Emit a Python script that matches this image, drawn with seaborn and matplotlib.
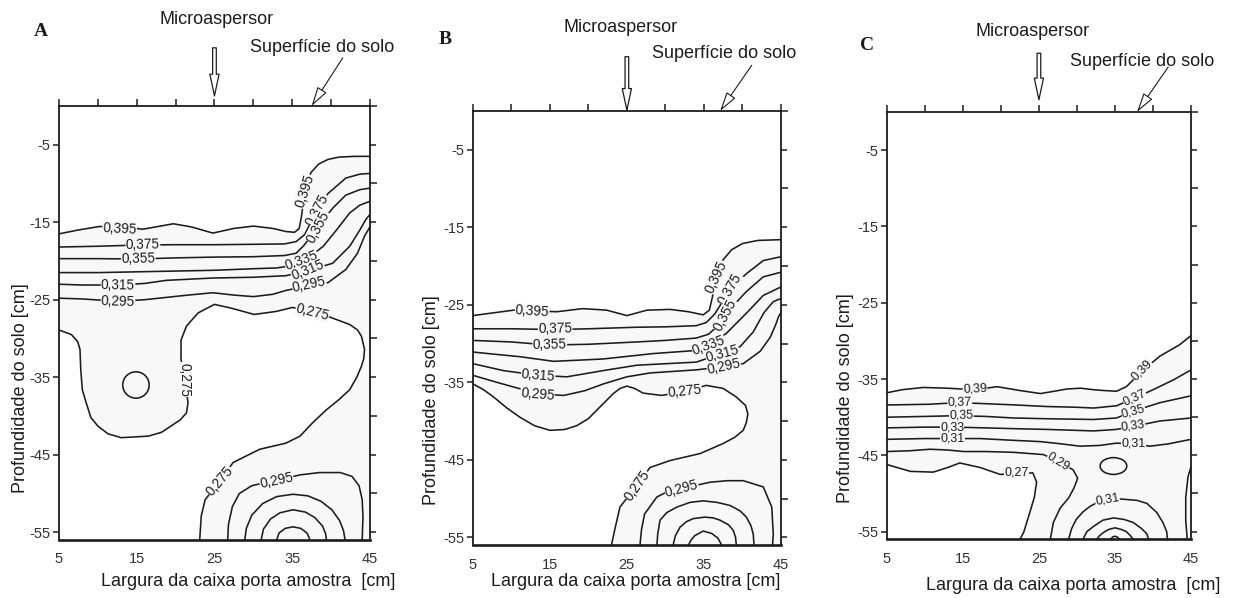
import matplotlib
matplotlib.use("Agg")
import matplotlib.pyplot as plt
import pandas as pd
import seaborn as sns
from matplotlib.patches import Ellipse

# ---------------------------------------------------------------- data
x_ticks = [5, 15, 25, 35, 45]
x_tick_labels = ["5", "15", "25", "35", "45"]
x_minor = [10, 20, 30, 40]
y_ticks = [-5, -15, -25, -35, -45, -55]
y_tick_labels = ["-5", "-15", "-25", "-35", "-45", "-55"]
y_minor = [0, -10, -20, -30, -40, -50]

# ---- Panel A (contour lines)
A_0395_x = [5, 7.5, 10.2, 13, 15.8, 19.7, 22, 24.8, 27.5, 30, 32.5, 34.2, 35.3, 35.9, 36.2, 36.6, 37.4, 38.4, 39.6, 41, 43, 45]
A_0395_y = [-16.5, -16.0, -15.55, -15.6, -15.9, -15.2, -15.6, -16.4, -15.8, -15.5, -15.8, -16.2, -16.3, -15.8, -14.2, -11.0, -8.6, -7.5, -6.9, -6.6, -6.5, -6.5]
A_0375_x = [5, 10, 15, 20, 25, 30, 34, 35.5, 36.6, 38.2, 39.6, 41.9, 43.7, 45]
A_0375_y = [-18.2, -18.1, -17.95, -17.9, -17.9, -17.85, -17.8, -17.5, -16.6, -13.4, -11.3, -9.3, -8.8, -8.7]
A_0355_x = [5, 10, 15, 20, 25, 30, 34, 35.5, 36.5, 38.3, 40.2, 41.9, 43.7, 45]
A_0355_y = [-19.7, -19.7, -19.75, -19.6, -19.5, -19.45, -19.3, -19.0, -18.0, -15.6, -13.2, -11.5, -10.8, -10.6]
A_0335_x = [5, 10, 15, 20, 25, 30, 33, 35, 36.8, 39, 40.7, 42.4, 43.7, 45]
A_0335_y = [-21.5, -21.5, -21.4, -21.3, -21.2, -21.0, -20.9, -20.6, -19.8, -18.1, -16.0, -13.8, -12.8, -12.3]
A_0315_x = [5, 8, 12.6, 16, 18.8, 24.8, 30, 34.2, 36.8, 40.2, 42.4, 43.7, 44.5, 45]
A_0315_y = [-23.0, -23.1, -23.1, -22.9, -22.5, -22.2, -22.1, -21.9, -21.3, -20.3, -18.1, -16.0, -14.6, -14.0]
A_0295_x = [5, 8, 12.6, 16, 21.6, 24.8, 27.5, 30, 32.5, 34.2, 37, 39.6, 41.9, 43.4, 44.3, 45]
A_0295_y = [-24.8, -24.9, -25.2, -25.0, -24.4, -24.1, -24.4, -24.6, -24.3, -23.8, -23.2, -22.8, -21.1, -19.0, -16.8, -15.6]
A_0275_x = [5, 6.6, 7.4, 7.7, 7.8, 8.0, 8.5, 9.1, 10, 11.3, 13, 16.5, 18.2, 19.4, 20.6, 21.4, 21.6, 21.2, 20.7, 20.7, 21.4, 22.9, 25, 27.2, 30.1, 33, 35, 37.2, 40, 42.4, 43.4, 43.9, 44.3, 44.2, 43.9, 43.3, 42.4, 41.0, 39.4, 37.6, 36, 34.2, 30.8, 27.4, 25.7, 23.8, 23.3, 23.1]
A_0275_y = [-28.9, -29.5, -30.4, -31.4, -34.0, -36.6, -38.3, -40.2, -41.3, -42.3, -42.8, -42.6, -42.1, -41.3, -40.5, -39.6, -38.3, -35.3, -32.7, -30.2, -28.4, -26.7, -25.6, -26.1, -26.9, -26.5, -26.0, -26.4, -27.3, -28.2, -28.9, -29.7, -31.4, -32.6, -33.6, -35.0, -36.6, -37.9, -39.2, -40.9, -42.6, -43.5, -44.3, -46.0, -48.4, -50.8, -52.9, -56]
A_r0295_x = [26.7, 26.8, 27.3, 28.2, 29.8, 31.5, 33, 36, 38.5, 41.2, 42.7, 43.6, 44.0, 44.1, 44.0]
A_r0295_y = [-56, -54.0, -51.7, -50.0, -49.0, -48.6, -48.3, -47.6, -47.3, -47.3, -47.8, -49.0, -50.8, -53.0, -56]
A_r0315_x = [28.9, 29.1, 29.8, 31.2, 33, 35.1, 37, 38.7, 40.1, 41.1, 41.6, 41.8]
A_r0315_y = [-56, -54.5, -52.8, -51.3, -50.4, -50.1, -50.3, -51.0, -52.1, -53.5, -54.8, -56]
A_r0335_x = [31, 31.3, 32.2, 33.4, 35.1, 36.7, 37.9, 38.9, 39.3, 39.4]
A_r0335_y = [-56, -54.6, -53.3, -52.5, -52.1, -52.4, -53.1, -54.2, -55.2, -56]
A_r0355_x = [33, 33.3, 34.1, 35.1, 36.1, 36.9, 37.3]
A_r0355_y = [-56, -55.1, -54.5, -54.3, -54.5, -55.1, -56]
A_circles = [(14.9, -36.0, 1.7, 1.7)]
A_clabels = [("0,395", 12.8, -15.8, -3), ("0,395", 36.6, -11.0, 72),
             ("0,375", 15.8, -17.95, 1), ("0,375", 38.2, -13.4, 62),
             ("0,355", 15.2, -19.75, 1), ("0,355", 38.3, -15.6, 62),
             ("0,335", 36.2, -20.0, 20),
             ("0,315", 12.6, -23.1, -1), ("0,315", 37.0, -21.2, 22),
             ("0,295", 12.6, -25.2, -2), ("0,295", 37.2, -23.1, 12),
             ("0,275", 21.2, -35.3, -90), ("0,275", 37.6, -26.6, -14),
             ("0,275", 25.7, -48.4, 50), ("0,295", 33.0, -48.4, 12)]

# ---- Panel B
B_0395_x = [5, 8, 10.3, 12.7, 15.9, 19.3, 22.4, 25, 27.6, 30.6, 33, 34.9, 35.7, 36.1, 36.6, 37.4, 38.6, 40, 42, 45]
B_0395_y = [-26.4, -26.0, -25.7, -25.8, -25.9, -25.5, -25.7, -26.4, -25.7, -25.6, -25.9, -26.3, -25.7, -24.0, -21.4, -19.3, -17.9, -17.1, -16.7, -16.6]
B_0375_x = [5, 10, 15.7, 20, 26.3, 30, 34, 35.3, 36.4, 38.4, 40.5, 42.7, 45]
B_0375_y = [-28.1, -28.1, -28.2, -28.1, -27.9, -27.85, -27.7, -27.3, -26.2, -23.0, -21.0, -19.3, -18.8]
B_0355_x = [5, 10, 15, 20, 26.3, 30, 34, 35.6, 36.6, 37.6, 40.5, 42.7, 45]
B_0355_y = [-29.6, -29.8, -30.2, -30.1, -29.8, -29.6, -29.3, -28.8, -27.9, -26.4, -23.3, -21.4, -20.8]
B_0335_x = [5, 8, 11.1, 15.5, 21.9, 28.4, 34, 35.5, 37.9, 40.5, 42.7, 45]
B_0335_y = [-31.1, -31.4, -31.7, -32.3, -32.0, -31.3, -30.9, -30.3, -28.7, -26.1, -23.8, -22.7]
B_0315_x = [5, 9, 13.5, 17.2, 21.9, 26.3, 34, 37.3, 39.7, 41.4, 42.8, 44.0, 45]
B_0315_y = [-32.6, -33.5, -34.1, -34.3, -33.5, -32.8, -32.4, -31.3, -30.4, -28.5, -26.0, -24.6, -24.2]
B_0295_x = [5, 8.1, 13.5, 16.8, 19.5, 22, 25, 28, 31, 34, 37.5, 40.1, 42.3, 43.6, 44.3, 44.7, 45]
B_0295_y = [-34.1, -35.0, -36.5, -36.7, -36.1, -35.2, -34.3, -33.8, -33.6, -33.4, -33.0, -32.6, -31.0, -29.2, -27.6, -26.5, -26.0]
B_0275_x = [5, 6.3, 7.7, 9.4, 11.1, 13, 15, 16.9, 18.5, 20, 21.1, 22.2, 23.2, 24.1, 25, 26, 27.1, 29.5, 32.5, 35.3, 37.5, 39.2, 40.4, 40.7, 40.5, 40.1, 39.0, 37.5, 34.5, 30.6, 28, 26.3, 24.1, 23.5, 23]
B_0275_y = [-35.2, -35.9, -36.9, -38.3, -39.5, -40.6, -41.2, -41.1, -40.6, -39.7, -38.6, -37.5, -36.5, -35.8, -35.5, -35.8, -36.4, -36.7, -36.2, -35.4, -35.8, -36.9, -38.0, -39.1, -40.2, -41.2, -42.1, -42.9, -44.2, -45.1, -46.0, -48.3, -51.1, -53.7, -56]
B_r0295_x = [26.7, 26.9, 27.3, 28.9, 30.5, 32.1, 35.8, 38, 40.1, 42.7, 43.8, 44.0, 43.9]
B_r0295_y = [-56, -54.0, -52.0, -49.8, -49.0, -48.7, -47.9, -47.7, -47.7, -48.5, -51.1, -54.6, -56]
B_r0315_x = [28.9, 29.0, 29.3, 30.2, 31.5, 33.2, 34.9, 36.7, 38.4, 39.7, 40.5, 41.1, 41.4, 41.5]
B_r0315_y = [-56, -54.6, -52.8, -51.8, -51.1, -50.5, -50.3, -50.5, -50.9, -51.6, -52.4, -53.5, -54.6, -56]
B_r0335_x = [31, 31.3, 31.9, 32.7, 33.6, 35.1, 36.2, 37.1, 38.2, 38.8, 39.1, 39.2]
B_r0335_y = [-56, -54.8, -53.7, -53.0, -52.6, -52.4, -52.5, -52.8, -53.4, -54.1, -55.0, -56]
B_r0355_x = [33, 33.3, 33.8, 34.9, 36, 36.8, 37.3]
B_r0355_y = [-56, -55.4, -54.8, -54.2, -54.5, -55.1, -56]
B_circles = []
B_clabels = [("0,395", 12.7, -25.85, -4), ("0,395", 36.6, -21.4, 65),
             ("0,375", 15.7, -28.15, 1), ("0,375", 38.4, -23.0, 60),
             ("0,355", 15.0, -30.15, 1), ("0,355", 37.7, -26.3, 62),
             ("0,335", 35.6, -30.2, 20),
             ("0,315", 13.5, -34.1, -5), ("0,315", 37.4, -31.3, 15),
             ("0,295", 13.4, -36.6, -5), ("0,295", 37.6, -33.0, 12),
             ("0,275", 32.5, -36.2, 6), ("0,275", 26.3, -48.3, 55),
             ("0,295", 32.1, -48.7, 15)]

# ---- Panel C
C_039_x = [5, 7, 9.8, 13, 16.6, 19.5, 22.5, 25.2, 27, 28.7, 30.5, 32.2, 33.5, 35.2, 36.5, 38.5, 40.9, 43.5, 45]
C_039_y = [-36.8, -36.4, -36.1, -36.2, -36.4, -36.0, -36.5, -36.9, -36.6, -36.3, -36.2, -36.4, -36.5, -36.6, -36.0, -34.0, -32.0, -30.5, -29.3]
C_037_x = [5, 10.7, 14.2, 17.3, 22, 26, 30, 32.2, 35.2, 37.6, 40, 42.7, 45]
C_037_y = [-38.4, -38.3, -38.1, -38.2, -38.4, -38.6, -38.7, -38.8, -38.5, -37.5, -36.4, -35.1, -33.8]
C_035_x = [5, 10, 14.2, 18, 21.6, 26, 32.2, 35.2, 37.4, 40.9, 45]
C_035_y = [-40.0, -39.9, -39.8, -39.9, -40.1, -40.2, -40.3, -40.1, -39.2, -38.1, -37.2]
C_033_x = [5, 10, 13.8, 18, 21.6, 26, 32.2, 35.2, 37.4, 40.9, 45]
C_033_y = [-41.4, -41.3, -41.3, -41.4, -41.5, -41.6, -41.8, -41.6, -41.2, -40.5, -40.1]
C_031_x = [5, 10, 13.8, 17.3, 21, 25.2, 28, 30.4, 33, 35.2, 37.4, 39.6, 42, 45]
C_031_y = [-42.9, -42.8, -42.8, -42.8, -43.0, -43.2, -43.5, -43.8, -43.7, -43.4, -43.5, -43.8, -43.5, -42.9]
C_029_x = [5, 8, 10.7, 13, 15.1, 18, 21.6, 25.6, 27.6, 29.5, 30.1, 29.6, 28.9, 27.8, 26.9, 26.5]
C_029_y = [-44.5, -44.4, -44.2, -44.3, -44.5, -44.5, -44.6, -44.9, -45.8, -46.9, -48.0, -49.3, -50.6, -51.9, -53.8, -56]
C_027_x = [5, 8.1, 11.1, 13, 14.6, 17.3, 19.9, 22.1, 24.2, 24.7, 24.4, 23.8, 23, 22.5]
C_027_y = [-46.2, -47.1, -47.2, -46.6, -46.0, -46.6, -47.5, -47.4, -47.3, -48.5, -50.5, -52.5, -55.1, -56]
C_e029_x = [45, 44.6, 44.3, 44.3, 44.5]
C_e029_y = [-46.5, -47.8, -50.5, -53.5, -56]
C_r031_x = [28.9, 29.3, 29.9, 30.8, 31.7, 33, 34.1, 35.5, 37.9, 39.2, 40.5, 41.3, 41.8, 41.9]
C_r031_y = [-56, -54.6, -53.4, -52.4, -51.7, -51.0, -50.8, -50.7, -50.9, -51.3, -52.5, -53.8, -55.0, -56]
C_r033_x = [30.8, 31.3, 32.2, 33.4, 34.8, 36.2, 37.4, 38.5, 39.2, 39.4]
C_r033_y = [-56, -55.0, -54.3, -53.5, -53.2, -53.4, -53.8, -54.6, -55.3, -56]
C_r035_x = [32.6, 33.0, 33.5, 34.2, 35.0, 35.8, 36.5, 37.0, 37.4]
C_r035_y = [-56, -55.5, -55.1, -54.7, -54.5, -54.7, -55.0, -55.5, -56]
C_r037_x = [34.4, 34.7, 35.0, 35.3, 35.6]
C_r037_y = [-56, -55.7, -55.6, -55.7, -56]
C_circles = [(34.8, -46.4, 1.75, 1.1)]
C_clabels = [("0,39", 16.6, -36.3, 3), ("0,39", 38.5, -33.8, 45),
             ("0,37", 14.6, -38.1, 1), ("0,37", 37.6, -37.5, 25),
             ("0,35", 14.8, -39.8, 1), ("0,35", 37.4, -39.2, 15),
             ("0,33", 13.6, -41.35, 0), ("0,33", 37.4, -41.2, 8),
             ("0,31", 13.6, -42.85, 0), ("0,31", 37.4, -43.5, 0),
             ("0,29", 27.6, -45.8, -32), ("0,27", 22.1, -47.3, 0),
             ("0,31", 34.0, -50.8, 10)]

panels = [
    dict(letter="A", rect=[0.0478, 0.0970, 0.2520, 0.7258],
         lines=[(A_0395_x, A_0395_y), (A_0375_x, A_0375_y), (A_0355_x, A_0355_y),
                (A_0335_x, A_0335_y), (A_0315_x, A_0315_y), (A_0295_x, A_0295_y),
                (A_0275_x, A_0275_y), (A_r0295_x, A_r0295_y), (A_r0315_x, A_r0315_y),
                (A_r0335_x, A_r0335_y), (A_r0355_x, A_r0355_y)],
         top=(A_0395_x, A_0395_y), bottom=(A_0275_x, A_0275_y),
         circles=A_circles, clabels=A_clabels, clabel_size=9.8,
         letter_xy=(41, 32), micro_xy=(217, 19), sup_xy=(322, 48),
         micro_arrow=(25, 7.5, 1.3), sup_arrow=(41.5, 6.2, 37.5),
         ylabel_xy=(21, 388), xlabel_xy=(248, 582),
         xlabel="Largura da caixa porta amostra  [cm]"),
    dict(letter="B", rect=[0.3831, 0.0886, 0.2498, 0.7258],
         lines=[(B_0395_x, B_0395_y), (B_0375_x, B_0375_y), (B_0355_x, B_0355_y),
                (B_0335_x, B_0335_y), (B_0315_x, B_0315_y), (B_0295_x, B_0295_y),
                (B_0275_x, B_0275_y), (B_r0295_x, B_r0295_y), (B_r0315_x, B_r0315_y),
                (B_r0335_x, B_r0335_y), (B_r0355_x, B_r0355_y)],
         top=(B_0395_x, B_0395_y), bottom=(B_0275_x, B_0275_y),
         circles=B_circles, clabels=B_clabels, clabel_size=9.8,
         letter_xy=(445, 40), micro_xy=(621, 27), sup_xy=(724, 53),
         micro_arrow=(25, 7.0, 0.1), sup_arrow=(41.2, 5.9, 37.1),
         ylabel_xy=(431, 400), xlabel_xy=(636, 582),
         xlabel="Largura da caixa porta amostra [cm]"),
    dict(letter="C", rect=[0.7186, 0.0982, 0.2466, 0.7145],
         lines=[(C_039_x, C_039_y), (C_037_x, C_037_y), (C_035_x, C_035_y),
                (C_033_x, C_033_y), (C_031_x, C_031_y), (C_029_x, C_029_y),
                (C_027_x, C_027_y), (C_e029_x, C_e029_y), (C_r031_x, C_r031_y),
                (C_r033_x, C_r033_y), (C_r035_x, C_r035_y), (C_r037_x, C_r037_y)],
         top=(C_039_x, C_039_y), bottom=(C_027_x, C_027_y),
         circles=C_circles, clabels=C_clabels, clabel_size=9.0,
         letter_xy=(867, 46), micro_xy=(1033, 31), sup_xy=(1142, 61),
         micro_arrow=(25, 7.7, 1.6), sup_arrow=(42.0, 5.9, 37.9),
         ylabel_xy=(846, 398), xlabel_xy=(1073, 585),
         xlabel="Largura da caixa porta amostra  [cm]"),
]

# ---------------------------------------------------------------- style
sns.set_style("white")
plt.rcParams["font.family"] = ["Liberation Sans", "DejaVu Sans"]
plt.rcParams["axes.unicode_minus"] = False

W, H = 1234, 598
fig = plt.figure(figsize=(W / 100, H / 100), dpi=100)
fig.patch.set_facecolor("white")

INK = "#1c1c1c"
FILL = "#f8f8f8"
LINE_W = 1.15


def fx(px):
    return px / W


def fy(py):
    return 1 - py / H


for p in panels:
    ax = fig.add_axes(p["rect"])
    ax.set_facecolor("white")

    # faint shaded band (values above the lowest labelled level)
    tx, ty = p["top"]
    bx, by = p["bottom"]
    ax.fill(list(tx) + [45] + list(bx)[::-1], list(ty) + [-56] + list(by)[::-1],
            color=FILL, lw=0, zorder=0)

    rows = []
    for i, (xs, ys) in enumerate(p["lines"]):
        for x, y in zip(xs, ys):
            rows.append({"x": x, "y": y, "seg": i})
    df = pd.DataFrame(rows)
    sns.lineplot(data=df, x="x", y="y", units="seg", estimator=None, sort=False,
                 color=INK, linewidth=LINE_W, ax=ax, legend=False, zorder=2)

    for cx, cy, a, b in p["circles"]:
        ax.add_patch(Ellipse((cx, cy), 2 * a, 2 * b, fill=False, ec=INK, lw=LINE_W, zorder=2))

    for txt, x, y, rot in p["clabels"]:
        ax.text(x, y, txt, fontsize=p["clabel_size"], color=INK, rotation=rot,
                rotation_mode="anchor", ha="center", va="center", zorder=3,
                bbox=dict(boxstyle="square,pad=0.02", fc=FILL, ec="none"))

    ax.set_xlim(5, 45)
    ax.set_ylim(-56, 0)
    ax.set_xticks(x_ticks)
    ax.set_xticklabels(x_tick_labels)
    ax.set_xticks(x_minor, minor=True)
    ax.set_yticks(y_ticks)
    ax.set_yticklabels(y_tick_labels)
    ax.set_yticks(y_minor, minor=True)
    ax.set_xlabel("")
    ax.set_ylabel("")

    ax.tick_params(axis="x", which="both", bottom=False, top=True, direction="out",
                   length=5, width=1.1, color=INK, labelsize=10.5, labelcolor="#333333", pad=4)
    ax.tick_params(axis="y", which="major", left=True, right=True, direction="out",
                   length=4, width=1.1, color=INK, labelsize=10.5, labelcolor="#333333", pad=2)
    ax.tick_params(axis="y", which="minor", left=False, right=True, direction="out",
                   length=5, width=1.1, color=INK)
    for side, sp in ax.spines.items():
        sp.set_visible(True)
        sp.set_color(INK)
        sp.set_linewidth(1.3)
    ax.spines["bottom"].set_linewidth(1.9)

    # arrows above the panel
    mx, mtop, mtip = p["micro_arrow"]
    ax.annotate("", xy=(mx, mtip), xytext=(mx, mtop), xycoords="data", annotation_clip=False,
                arrowprops=dict(arrowstyle="simple,head_length=1.3,head_width=0.55,tail_width=0.22",
                                fc="white", ec=INK, lw=0.9, mutation_scale=12,
                                shrinkA=0, shrinkB=0))
    sx, sy, stip = p["sup_arrow"]
    ax.annotate("", xy=(stip, 0), xytext=(sx, sy), xycoords="data", annotation_clip=False,
                arrowprops=dict(arrowstyle="-|>,head_length=1.0,head_width=0.28",
                                fc="white", ec=INK, lw=0.8, mutation_scale=12,
                                shrinkA=0, shrinkB=0))

    fig.text(fx(p["letter_xy"][0]), fy(p["letter_xy"][1]), p["letter"],
             family=["Liberation Serif", "DejaVu Serif"], fontsize=14, fontweight="bold",
             ha="center", va="center", color=INK)
    fig.text(fx(p["micro_xy"][0]), fy(p["micro_xy"][1]), "Microaspersor",
             fontsize=13, ha="center", va="center", color=INK)
    fig.text(fx(p["sup_xy"][0]), fy(p["sup_xy"][1]), "Superfície do solo",
             fontsize=13, ha="center", va="center", color=INK)
    fig.text(fx(p["ylabel_xy"][0]), fy(p["ylabel_xy"][1]), "Profundidade do solo [cm]",
             fontsize=13, rotation=90, ha="center", va="center", color=INK)
    fig.text(fx(p["xlabel_xy"][0]), fy(p["xlabel_xy"][1]), p["xlabel"],
             fontsize=13, ha="center", va="center", color=INK)

fig.savefig("out.png", dpi=100, facecolor="white")
